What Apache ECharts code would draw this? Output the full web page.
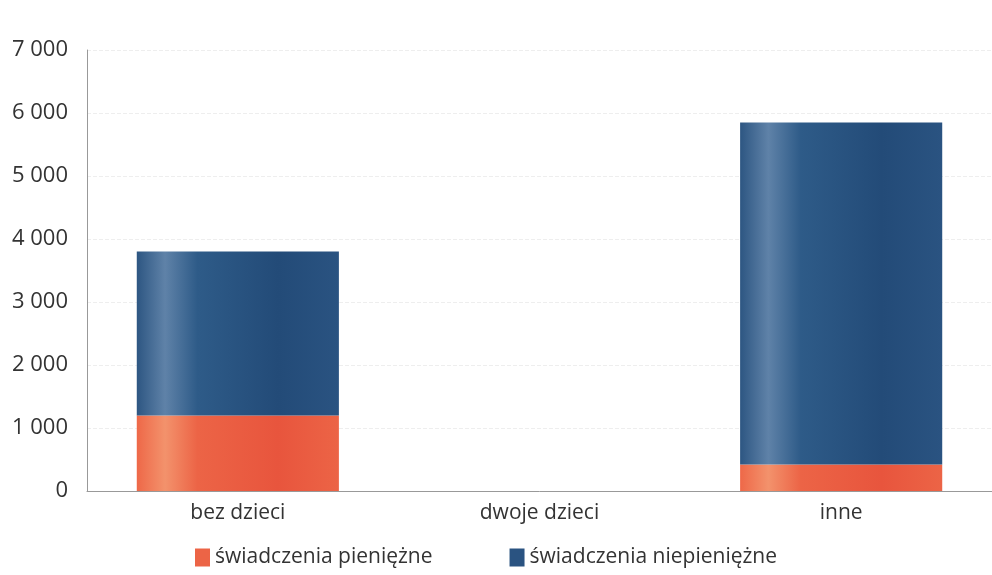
<!DOCTYPE html>
<html><head><meta charset="utf-8">
<script src="https://cdn.jsdelivr.net/npm/echarts@6/dist/echarts.min.js"></script>
<style>html,body{margin:0;padding:0;background:#fff}#c{width:992px;height:575px}</style>
</head><body><div id="c"></div>
<script>
const categories = ['bez dzieci', 'dwoje dzieci', 'inne'];
const pieniezne = [1200, 0, 420];
const niepieniezne = [2600, 0, 5430];
const seriesNames = ['świadczenia pieniężne', 'świadczenia niepieniężne'];

const blueGrad = new echarts.graphic.LinearGradient(0,0,1,0,[
  {offset:0,color:'#2d5682'},{offset:0.14,color:'#5f82a8'},{offset:0.3,color:'#2e5b88'},
  {offset:0.7,color:'#234b78'},{offset:1,color:'#2a5381'}]);
const orangeGrad = new echarts.graphic.LinearGradient(0,0,1,0,[
  {offset:0,color:'#ee6848'},{offset:0.14,color:'#f3926c'},{offset:0.3,color:'#ec6446'},
  {offset:0.7,color:'#e8553d'},{offset:1,color:'#ec6446'}]);

const chart = echarts.init(document.getElementById('c'));
chart.setOption({
  animation:false,
  textStyle:{fontFamily:'Open Sans'},
  grid:{left:87,right:0,top:50,bottom:84},
  legend:{left:190,top:542,itemWidth:15,itemHeight:18,itemGap:77,icon:'rect',
    textStyle:{fontSize:21,color:'#333',fontFamily:'Open Sans'},
    data:[{name:seriesNames[0],itemStyle:{color:'#ec6446'}},{name:seriesNames[1],itemStyle:{color:'#2a5381'}}]},
  xAxis:{type:'category',data:categories,
    axisLine:{lineStyle:{color:'#999',width:1}},axisTick:{show:false},
    axisLabel:{fontSize:21,color:'#333',margin:12,fontFamily:'Open Sans'}},
  yAxis:{type:'value',min:0,max:7000,interval:1000,
    axisLine:{show:true,lineStyle:{color:'#999'}},axisTick:{show:false},
    splitLine:{show:true,lineStyle:{color:'#eee',type:'dashed'}},
    axisLabel:{fontSize:22,color:'#333',margin:19,fontFamily:'Open Sans',
      formatter:v=>String(v).replace(/\B(?=(\d{3})+(?!\d))/g,' ')}},
  series:[
    {name:seriesNames[0],type:'bar',stack:'a',data:pieniezne,barWidth:'67%',itemStyle:{color:orangeGrad}},
    {name:seriesNames[1],type:'bar',stack:'a',data:niepieniezne,barWidth:'67%',itemStyle:{color:blueGrad}}
  ]
});
</script></body></html>
